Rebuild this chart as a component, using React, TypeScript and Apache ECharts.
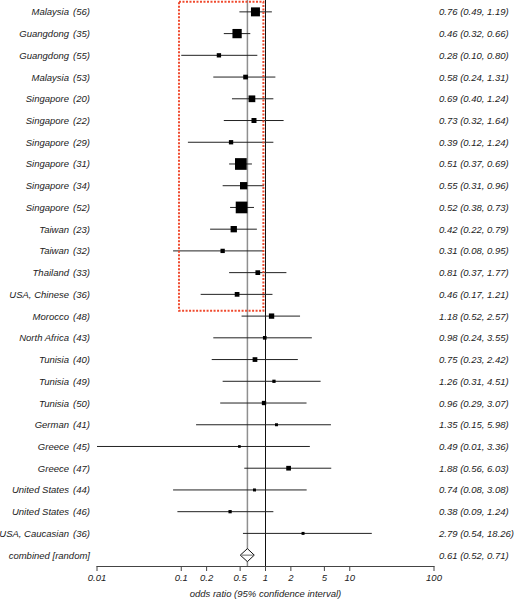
import React, { useEffect, useRef } from "react";
import * as echarts from "echarts";

const studyNames = [
  "Malaysia", "Guangdong", "Guangdong", "Malaysia", "Singapore", "Singapore", "Singapore",
  "Singapore", "Singapore", "Singapore", "Taiwan", "Taiwan", "Thailand", "USA, Chinese",
  "Morocco", "North Africa", "Tunisia", "Tunisia", "Tunisia", "German", "Greece", "Greece",
  "United States", "United States", "USA, Caucasian",
];
const studyRefs = [56, 35, 55, 53, 20, 22, 29, 31, 34, 52, 23, 32, 33, 36, 48, 43, 40, 49, 50, 41, 45, 47, 44, 46, 36];
const oddsRatios = [0.76, 0.46, 0.28, 0.58, 0.69, 0.73, 0.39, 0.51, 0.55, 0.52, 0.42, 0.31, 0.81, 0.46, 1.18, 0.98, 0.75, 1.26, 0.96, 1.35, 0.49, 1.88, 0.74, 0.38, 2.79];
const ciLow = [0.49, 0.32, 0.10, 0.24, 0.40, 0.32, 0.12, 0.37, 0.31, 0.38, 0.22, 0.08, 0.37, 0.17, 0.52, 0.24, 0.23, 0.31, 0.29, 0.15, 0.01, 0.56, 0.08, 0.09, 0.54];
const ciHigh = [1.19, 0.66, 0.80, 1.31, 1.24, 1.64, 1.24, 0.69, 0.96, 0.73, 0.79, 0.95, 1.77, 1.21, 2.57, 3.55, 2.42, 4.51, 3.07, 5.98, 3.36, 6.03, 3.08, 1.24, 18.26];
const weights = [9.1, 9.7, 2.1, 2.5, 5.1, 2.8, 2.1, 15.4, 6.0, 15.4, 4.5, 2.1, 2.5, 2.5, 3.2, 1.5, 2.5, 1.2, 2.1, 1.0, 0.8, 2.5, 1.0, 1.2, 1.0];

const combinedLabel = "combined [random]";
const combined = { or: 0.61, lo: 0.52, hi: 0.71 };

const tickValues = [0.01, 0.1, 0.2, 0.5, 1, 2, 5, 10, 100];
const tickLabels = ["0.01", "0.1", "0.2", "0.5", "1", "2", "5", "10", "100"];

// highlighted region (x range in odds ratio, y range in rows)
const highlightBox = [0.094, -0.46, 0.944, 13.75];

const FONT = '"Liberation Sans", Arial, Helvetica, sans-serif';
const TXT = "#222";

export default function App() {
  const ref = useRef<HTMLDivElement>(null);
  useEffect(() => {
    if (!ref.current) return;
    const chart = echarts.init(ref.current, null, { renderer: "svg" });
    const nRows = studyNames.length + 1;
    const combinedRow = studyNames.length;
    const yMax = nRows - 0.5;

    const option: any = {
      animation: false,
      grid: { left: 97, right: 80, top: 1, bottom: 35, containLabel: false, outerBoundsMode: "none" },
      xAxis: {
        type: "log",
        logBase: 10,
        min: 0.01,
        max: 100,
        axisLine: { show: true, onZero: false, lineStyle: { color: "#444", width: 1 } },
        axisTick: { show: false },
        axisLabel: { show: false },
        splitLine: { show: false },
      },
      yAxis: {
        type: "value",
        inverse: true,
        min: -0.5,
        max: yMax,
        show: false,
      },
      series: [
        {
          type: "custom",
          clip: false,
          silent: true,
          data: [[1, 0], [combined.or, 1]],
          renderItem: (params: any, api: any) => {
            const v = api.value(0);
            const top = api.coord([v, -0.5]);
            const bot = api.coord([v, yMax]);
            const isRef = api.value(1) === 0;
            return {
              type: "line",
              shape: { x1: top[0], y1: 0, x2: bot[0], y2: bot[1] },
              style: { stroke: isRef ? "#111" : "#8f8f8f", lineWidth: isRef ? 1 : 1.5 },
            };
          },
        },
        {
          type: "custom",
          clip: false,
          silent: true,
          data: studyNames.map((_, i) => [oddsRatios[i], i, ciLow[i], ciHigh[i], weights[i]]),
          encode: { x: 0, y: 1 },
          renderItem: (params: any, api: any) => {
            const row = api.value(1);
            const c = api.coord([api.value(0), row]);
            const l = api.coord([api.value(2), row]);
            const h = api.coord([api.value(3), row]);
            const s = 2.98 * Math.sqrt(api.value(4));
            return {
              type: "group",
              children: [
                { type: "line", shape: { x1: l[0], y1: c[1], x2: h[0], y2: c[1] }, style: { stroke: "#222", lineWidth: 1 } },
                { type: "rect", shape: { x: c[0] - s / 2, y: c[1] - s / 2, width: s, height: s }, style: { fill: "#000" } },
              ],
            };
          },
        },
        {
          type: "custom",
          clip: false,
          silent: true,
          data: [[combined.or, combinedRow, combined.lo, combined.hi]],
          encode: { x: 0, y: 1 },
          renderItem: (params: any, api: any) => {
            const row = api.value(1);
            const c = api.coord([api.value(0), row]);
            const l = api.coord([api.value(2), row]);
            const h = api.coord([api.value(3), row]);
            const hh = 6.5;
            return {
              type: "group",
              children: [
                {
                  type: "polygon",
                  shape: { points: [[l[0] - 1.3, c[1]], [c[0], c[1] - hh], [h[0] + 1.3, c[1]], [c[0], c[1] + hh]] },
                  style: { fill: "#fff", stroke: "#111", lineWidth: 1 },
                },
                { type: "line", shape: { x1: l[0], y1: c[1], x2: h[0], y2: c[1] }, style: { stroke: "#444", lineWidth: 0.8 } },
              ],
            };
          },
        },
        {
          type: "custom",
          clip: false,
          silent: true,
          data: [highlightBox],
          renderItem: (params: any, api: any) => {
            const a = api.coord([api.value(0), api.value(1)]);
            const b = api.coord([api.value(2), api.value(3)]);
            return {
              type: "rect",
              shape: { x: a[0], y: a[1], width: b[0] - a[0], height: b[1] - a[1] },
              style: { fill: "none", stroke: "#ef4a2e", lineWidth: 2, lineDash: [2, 1.5] },
            };
          },
        },
        {
          type: "custom",
          clip: false,
          silent: true,
          data: Array.from({ length: nRows }, (_, i) => [0.01, i]),
          renderItem: (params: any, api: any) => {
            const i = params.dataIndex;
            const left = api.coord([0.01, i]);
            const right = api.coord([100, i]);
            const y = left[1];
            const base = { fontStyle: "italic", fontSize: 9.5, fontFamily: FONT, fill: TXT, verticalAlign: "middle" };
            let valText: string;
            const children: any[] = [];
            if (i < studyNames.length) {
              children.push({ type: "text", x: left[0] - 28, y, style: { ...base, text: studyNames[i], align: "right" } });
              children.push({ type: "text", x: left[0] - 7, y, style: { ...base, text: `(${studyRefs[i]})`, align: "right" } });
              valText = `${oddsRatios[i].toFixed(2)} (${ciLow[i].toFixed(2)}, ${ciHigh[i].toFixed(2)})`;
            } else {
              children.push({ type: "text", x: left[0] - 7, y, style: { ...base, text: combinedLabel, align: "right" } });
              valText = `${combined.or.toFixed(2)} (${combined.lo.toFixed(2)}, ${combined.hi.toFixed(2)})`;
            }
            children.push({ type: "text", x: right[0] + 5, y, style: { ...base, text: valText, align: "left" } });
            return { type: "group", children };
          },
        },
        {
          type: "custom",
          clip: false,
          silent: true,
          data: tickValues.map((v) => [v, yMax]),
          renderItem: (params: any, api: any) => {
            const p = api.coord([api.value(0), yMax]);
            const children: any[] = [
              { type: "line", shape: { x1: p[0], y1: p[1], x2: p[0], y2: p[1] + 5 }, style: { stroke: "#444", lineWidth: 1 } },
              {
                type: "text",
                x: p[0],
                y: p[1] + 11,
                style: {
                  text: tickLabels[params.dataIndex],
                  fontStyle: "italic",
                  fontSize: 9.5,
                  fontFamily: FONT,
                  fill: TXT,
                  align: "center",
                  verticalAlign: "middle",
                },
              },
            ];
            if (params.dataIndex === 0) {
              const a = api.coord([0.01, yMax]);
              const b = api.coord([100, yMax]);
              children.push({
                type: "text",
                x: (a[0] + b[0]) / 2,
                y: p[1] + 27,
                style: {
                  text: "odds ratio (95% confidence interval)",
                  fontStyle: "italic",
                  fontSize: 9.5,
                  fontFamily: FONT,
                  fill: TXT,
                  align: "center",
                  verticalAlign: "middle",
                },
              });
            }
            return { type: "group", children };
          },
        },
      ],
    };
    chart.setOption(option);
    return () => chart.dispose();
  }, []);
  return (
    <div
      ref={ref}
      style={{ position: "absolute", left: 0, top: 0, width: 514, height: 601, background: "#fff" }}
    />
  );
}
